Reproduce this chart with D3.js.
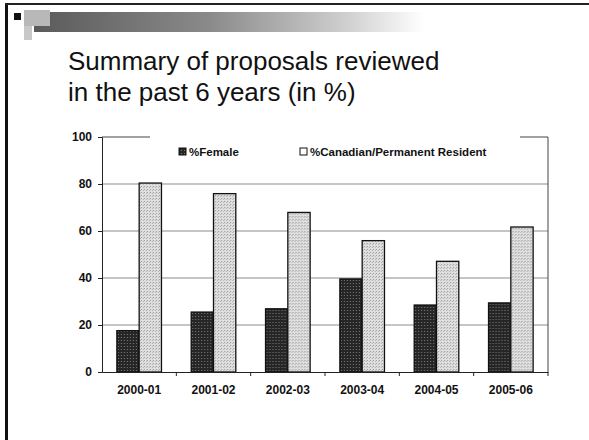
<!DOCTYPE html>
<html>
<head>
<meta charset="utf-8">
<script src="https://cdnjs.cloudflare.com/ajax/libs/d3/7.8.5/d3.min.js"></script>
<style>
  html, body { margin: 0; padding: 0; background: #fff; }
  svg { display: block; font-family: "Liberation Sans", Arial, sans-serif; }
</style>
</head>
<body>
<svg id="slide"></svg>
<script>
var years = ['2000-01', '2001-02', '2002-03', '2003-04', '2004-05', '2005-06'];
var female = [17.6, 25.5, 26.9, 39.6, 28.5, 29.4];
var canadian = [80.4, 75.9, 67.9, 55.9, 47.1, 61.7];
var seriesNames = ['%Female', '%Canadian/Permanent Resident'];
var yTicks = [0, 20, 40, 60, 80, 100];
var titleLines = ['Summary of proposals reviewed', 'in the past 6 years (in %)'];

var width = 589,
    height = 440,
    plotLeft = 102,
    plotRight = 548,
    plotTop = 137,
    plotBottom = 372;

var svg = d3.select('svg#slide')
    .attr('width', width)
    .attr('height', height);

var defs = svg.append('defs');

// halftone-ish fills, the scan looks stippled
var darkPat = defs.append('pattern')
    .attr('id', 'darkFill')
    .attr('width', 3).attr('height', 3)
    .attr('patternUnits', 'userSpaceOnUse');
darkPat.append('rect').attr('width', 3).attr('height', 3).attr('fill', '#262626');
darkPat.append('rect').attr('x', 1).attr('y', 1).attr('width', 1).attr('height', 1).attr('fill', '#7a7a7a');

var lightPat = defs.append('pattern')
    .attr('id', 'lightFill')
    .attr('width', 3).attr('height', 3)
    .attr('patternUnits', 'userSpaceOnUse');
lightPat.append('rect').attr('width', 3).attr('height', 3).attr('fill', '#e0e0e0');
lightPat.append('rect').attr('x', 0).attr('y', 0).attr('width', 1).attr('height', 1).attr('fill', '#969696');
lightPat.append('rect').attr('x', 2).attr('y', 1).attr('width', 1).attr('height', 1).attr('fill', '#b0b0b0');

var bandGrad = defs.append('linearGradient')
    .attr('id', 'bandGrad')
    .attr('x1', '0%').attr('x2', '100%');
bandGrad.append('stop').attr('offset', '0%').attr('stop-color', '#5a5a5a');
bandGrad.append('stop').attr('offset', '45%').attr('stop-color', '#8a8a8a');
bandGrad.append('stop').attr('offset', '80%').attr('stop-color', '#cfcfcf');
bandGrad.append('stop').attr('offset', '100%').attr('stop-color', '#fff');

// slide frame
svg.append('rect').attr('x', 5).attr('y', 3).attr('width', 3).attr('height', height - 3).attr('fill', '#111');
svg.append('rect').attr('x', 5).attr('y', 3).attr('width', width - 5).attr('height', 2).attr('fill', '#222');

// header decoration
svg.append('rect').attr('x', 34).attr('y', 12).attr('width', 390).attr('height', 20).attr('fill', 'url(#bandGrad)');
svg.append('rect').attr('x', 24).attr('y', 10).attr('width', 26).attr('height', 16).attr('fill', '#b8b8b8');
svg.append('rect').attr('x', 24).attr('y', 26).attr('width', 8).attr('height', 14).attr('fill', '#c8c8c8');
svg.append('rect').attr('x', 14).attr('y', 13).attr('width', 7).attr('height', 7).attr('fill', '#111');

svg.append('g').selectAll('text')
    .data(titleLines)
    .join('text')
    .attr('x', 68)
    .attr('y', function(d, i) { return 70 + i * 31; })
    .attr('font-size', '26px')
    .attr('fill', '#111')
    .text(function(d) { return d; });

var x0 = d3.scaleBand()
    .domain(years)
    .range([plotLeft, plotRight])
    .paddingInner(0.4)
    .paddingOuter(0.2);

var x1 = d3.scaleBand()
    .domain(seriesNames)
    .range([0, x0.bandwidth()]);

var y = d3.scaleLinear()
    .domain([0, 100])
    .range([plotBottom, plotTop]);

// gridlines
svg.append('g').selectAll('line')
    .data(yTicks.filter(function(t) { return t > 0 && t < 100; }))
    .join('line')
    .attr('x1', plotLeft).attr('x2', plotRight)
    .attr('y1', function(d) { return y(d); })
    .attr('y2', function(d) { return y(d); })
    .attr('stroke', '#8c8c8c')
    .attr('stroke-width', 1.2);

// plot border (top + right)
svg.append('path')
    .attr('d', 'M' + plotLeft + ',' + plotTop + 'H' + plotRight + 'V' + plotBottom)
    .attr('fill', 'none')
    .attr('stroke', '#444')
    .attr('stroke-width', 1);

var rows = years.map(function(yr, i) {
    return { year: yr, values: [female[i], canadian[i]] };
});

var groups = svg.append('g').selectAll('g')
    .data(rows)
    .join('g')
    .attr('transform', function(d) { return 'translate(' + x0(d.year) + ',0)'; });

groups.selectAll('rect')
    .data(function(d) { return d.values.map(function(v, k) { return { name: seriesNames[k], value: v, k: k }; }); })
    .join('rect')
    .attr('x', function(d) { return x1(d.name); })
    .attr('y', function(d) { return y(d.value); })
    .attr('width', x1.bandwidth())
    .attr('height', function(d) { return plotBottom - y(d.value); })
    .attr('fill', function(d) { return d.k === 0 ? 'url(#darkFill)' : 'url(#lightFill)'; })
    .attr('stroke', '#111')
    .attr('stroke-width', 1.3);

// axes
var yAxis = d3.axisLeft(y)
    .tickValues(yTicks)
    .tickSize(4)
    .tickPadding(6);
var yG = svg.append('g')
    .attr('transform', 'translate(' + plotLeft + ',0)')
    .call(yAxis);
yG.selectAll('text')
    .attr('font-family', '"Liberation Sans", Arial, sans-serif')
    .attr('font-size', '12px')
    .attr('font-weight', 'bold')
    .attr('fill', '#111');
yG.select('.domain').attr('stroke', '#222');
yG.selectAll('.tick line').attr('stroke', '#222');

var xAxis = d3.axisBottom(x0)
    .tickSize(0)
    .tickPadding(13);
var xG = svg.append('g')
    .attr('transform', 'translate(0,' + plotBottom + ')')
    .call(xAxis);
xG.select('.domain').attr('stroke', '#222').attr('stroke-width', 1.2);
xG.selectAll('text')
    .attr('font-family', '"Liberation Sans", Arial, sans-serif')
    .attr('font-size', '12px')
    .attr('font-weight', 'bold')
    .attr('fill', '#111');

// category separators on x axis
var step = x0.step();
svg.append('g').selectAll('line')
    .data(d3.range(1, years.length + 1))
    .join('line')
    .attr('x1', function(d) { return plotLeft + step * d; })
    .attr('x2', function(d) { return plotLeft + step * d; })
    .attr('y1', plotBottom)
    .attr('y2', plotBottom + 4)
    .attr('stroke', '#222');

// legend, sits on top of the plot border
var legend = svg.append('g').attr('transform', 'translate(150,' + plotTop + ')');
legend.append('rect')
    .attr('x', 0).attr('y', -4)
    .attr('width', 370).attr('height', 28)
    .attr('fill', '#fff');
var legendX = [33, 154];
var item = legend.selectAll('g.item')
    .data(seriesNames)
    .join('g')
    .attr('class', 'item')
    .attr('transform', function(d, i) { return 'translate(' + legendX[i] + ',15)'; });
item.append('rect')
    .attr('x', -4).attr('y', -4)
    .attr('width', 7).attr('height', 7)
    .attr('fill', function(d, i) { return i === 0 ? 'url(#darkFill)' : '#fff'; })
    .attr('stroke', '#111');
item.append('text')
    .attr('x', 6)
    .attr('y', 4)
    .attr('font-size', '11.5px')
    .attr('font-weight', 'bold')
    .attr('fill', '#111')
    .text(function(d) { return d; });
</script>
</body>
</html>
